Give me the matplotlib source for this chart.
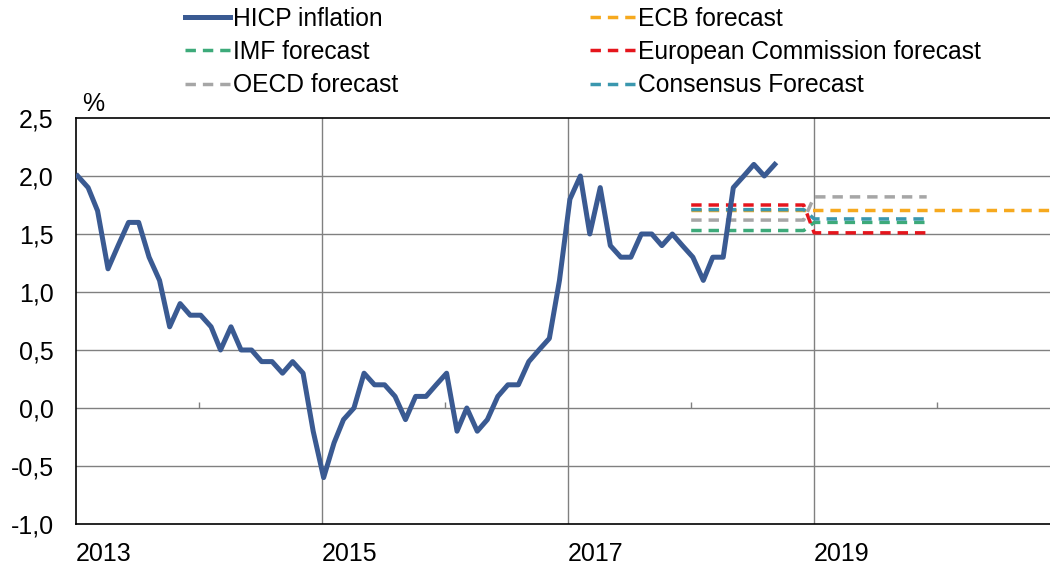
import numpy as np
import pandas as pd
import matplotlib
matplotlib.use('Agg')
import matplotlib.pyplot as plt
from matplotlib.ticker import FuncFormatter

plt.rcParams['font.family'] = ['Liberation Sans', 'DejaVu Sans']

# Monthly HICP inflation, Jan 2013 - Sep 2018 (%)
hicp_start = '2013-01-01'
hicp = [2.0, 1.9, 1.7, 1.2, 1.4, 1.6, 1.6, 1.3, 1.1, 0.7, 0.9, 0.8,
        0.8, 0.7, 0.5, 0.7, 0.5, 0.5, 0.4, 0.4, 0.3, 0.4, 0.3, -0.2,
        -0.6, -0.3, -0.1, 0.0, 0.3, 0.2, 0.2, 0.1, -0.1, 0.1, 0.1, 0.2,
        0.3, -0.2, 0.0, -0.2, -0.1, 0.1, 0.2, 0.2, 0.4, 0.5, 0.6, 1.1,
        1.8, 2.0, 1.5, 1.9, 1.4, 1.3, 1.3, 1.5, 1.5, 1.4, 1.5, 1.4,
        1.3, 1.1, 1.3, 1.3, 1.9, 2.0, 2.1, 2.0, 2.1]

# Annual forecasts
forecast_years = [2018, 2019, 2020]
ecb = [1.71, 1.71, 1.71]
imf = [1.53, 1.60, np.nan]
oecd = [1.62, 1.82, np.nan]
ec = [1.75, 1.51, np.nan]
consensus = [1.71, 1.63, np.nan]

label_years = [2013, 2015, 2017, 2019]
grid_years = [2015, 2017, 2019]
minor_years = [2014, 2016, 2018, 2020]
yticks = [-1.0, -0.5, 0.0, 0.5, 1.0, 1.5, 2.0, 2.5]

blue = '#3A5A92'
orange = '#F6A91E'
green = '#3DAA7A'
red = '#E5151C'
grey = '#A6A6A6'
teal = '#3A97AE'


def year_segments(values):
    # each annual value drawn from January to December of its year
    xs, ys = [], []
    for yr, v in zip(forecast_years, values):
        if np.isnan(v):
            continue
        xs += [pd.Timestamp(yr, 1, 1), pd.Timestamp(yr, 12, 1)]
        ys += [v, v]
    return xs, ys


fig = plt.figure(figsize=(10.5, 5.67), dpi=100)
ax = fig.add_axes([76 / 1050, 1 - 524 / 567, 1 - 76 / 1050, (524 - 118) / 567])

dates = pd.date_range(hicp_start, periods=len(hicp), freq='MS') + pd.Timedelta(days=5)
dash = (0, (3, 2))
lw_f = 2.5

h_hicp, = ax.plot(dates, hicp, color=blue, lw=3.6, zorder=5, label='HICP inflation')
h_ecb, = ax.plot(*year_segments(ecb), color=orange, lw=lw_f, ls=dash, zorder=3, label='ECB forecast')
h_imf, = ax.plot(*year_segments(imf), color=green, lw=lw_f, ls=dash, zorder=3, label='IMF forecast')
h_ec, = ax.plot(*year_segments(ec), color=red, lw=lw_f, ls=dash, zorder=3, label='European Commission forecast')
h_oecd, = ax.plot(*year_segments(oecd), color=grey, lw=lw_f, ls=dash, zorder=3, label='OECD forecast')
h_cons, = ax.plot(*year_segments(consensus), color=teal, lw=lw_f, ls=dash, zorder=4, label='Consensus Forecast')

ax.set_xlim(pd.Timestamp(2013, 1, 1), pd.Timestamp(2020, 12, 1))
ax.set_ylim(-1.0, 2.5)

# axes styling
for s in ['left', 'bottom', 'top']:
    ax.spines[s].set_color('black')
    ax.spines[s].set_linewidth(1.2)
ax.spines['right'].set_visible(False)

ax.set_yticks(yticks)
ax.yaxis.set_major_formatter(FuncFormatter(lambda v, p: f'{v:.1f}'.replace('.', ',')))
ax.set_xticks([pd.Timestamp(y, 1, 1) for y in label_years])
ax.set_xticklabels([str(y) for y in label_years], ha='left')
ax.tick_params(axis='y', length=0, pad=16, labelsize=18)
ax.tick_params(axis='x', length=0, pad=13, labelsize=18)

for v in yticks[1:-1]:
    ax.axhline(v, color='#808080', lw=1.0, zorder=1)
for y in grid_years:
    ax.axvline(pd.Timestamp(y, 1, 1), color='#808080', lw=1.0, zorder=1)
ax.vlines([pd.Timestamp(y, 1, 1) for y in minor_years], 0, 0.05, color='#808080', lw=1.0, zorder=1)

ax.annotate('%', xy=(0.0175, 1), xycoords='axes fraction', xytext=(0, 5),
            textcoords='offset points', ha='center', va='baseline', fontsize=18)

leg_kw = dict(frameon=False, fontsize=17.7, handlelength=1.85, handletextpad=0.12,
              labelspacing=0.37, borderpad=0, borderaxespad=0, loc='upper left')
fig.legend([h_hicp, h_imf, h_oecd], ['HICP inflation', 'IMF forecast', 'OECD forecast'],
           bbox_to_anchor=(185 / 1050, 1 - 7 / 567), **leg_kw)
fig.legend([h_ecb, h_ec, h_cons], ['ECB forecast', 'European Commission forecast', 'Consensus Forecast'],
           bbox_to_anchor=(590 / 1050, 1 - 7 / 567), **leg_kw)

fig.savefig('out.png', dpi=100)
